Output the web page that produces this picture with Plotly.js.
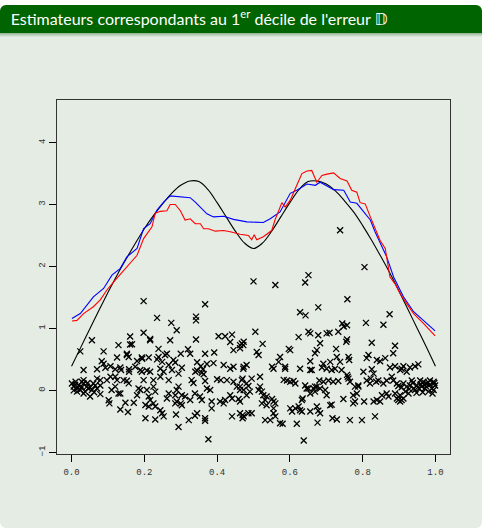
<!DOCTYPE html>
<html>
<head>
<meta charset="utf-8">
<script src="https://cdn.plot.ly/plotly-3.0.1.min.js"></script>
<style>
html,body{margin:0;padding:0;background:#ffffff;width:483px;height:528px;overflow:hidden;}
#block{position:absolute;left:0;top:5px;width:482px;height:523px;background:#e4ece4;border-radius:6px;}
#bar{position:absolute;left:0;top:5px;width:482px;height:28px;background:#006400;border-radius:6px 6px 0 0;}
#shadow{position:absolute;left:0;top:33px;width:482px;height:4px;background:linear-gradient(#8fb38f,#e4ece4);}
#chart{position:absolute;left:0;top:0;width:483px;height:528px;}
</style>
</head>
<body>
<div id="block"></div>
<div id="bar"></div>
<div id="shadow"></div>
<div id="chart"></div>
<script>
// True regression function (black)
const trueX = [0.000,0.025,0.050,0.075,0.100,0.125,0.150,0.175,0.200,0.225,0.250,0.275,0.300,0.325,0.350,0.375,0.400,0.425,0.450,0.475,0.500,0.525,0.550,0.575,0.600,0.625,0.650,0.675,0.700,0.725,0.750,0.775,0.800,0.825,0.850,0.875,0.900,0.925,0.950,0.975,1.000];
const trueY = [0.39,0.69,0.99,1.29,1.58,1.86,2.12,2.37,2.61,2.82,3.01,3.18,3.31,3.38,3.37,3.24,3.03,2.80,2.57,2.38,2.29,2.38,2.57,2.80,3.03,3.24,3.37,3.38,3.33,3.22,3.06,2.88,2.66,2.42,2.16,1.89,1.60,1.30,1.00,0.70,0.39];

// Estimator 1 (blue)
const blueX = [0.001,0.024,0.060,0.088,0.111,0.134,0.152,0.180,0.198,0.216,0.235,0.253,0.271,0.326,0.340,0.372,0.390,0.418,0.445,0.482,0.527,0.546,0.573,0.601,0.619,0.647,0.670,0.683,0.702,0.720,0.748,0.766,0.784,0.802,0.821,0.834,0.848,0.866,0.885,0.912,0.940,0.967,0.999];
const blueY = [1.16,1.24,1.51,1.645,1.86,1.97,2.155,2.29,2.61,2.69,2.91,3.04,3.14,3.11,3.04,2.85,2.80,2.81,2.76,2.72,2.71,2.77,2.88,3.18,3.23,3.33,3.31,3.36,3.30,3.24,3.23,3.04,3.02,2.88,2.75,2.56,2.37,2.155,1.83,1.51,1.27,1.13,0.96];

// Estimator 2 (red)
const redX = [0.001,0.015,0.033,0.060,0.079,0.097,0.120,0.143,0.161,0.180,0.198,0.221,0.230,0.244,0.262,0.271,0.285,0.299,0.312,0.326,0.340,0.354,0.363,0.376,0.395,0.418,0.436,0.463,0.486,0.495,0.502,0.509,0.527,0.550,0.559,0.578,0.587,0.601,0.619,0.633,0.647,0.660,0.674,0.688,0.702,0.720,0.738,0.757,0.770,0.784,0.793,0.807,0.821,0.834,0.848,0.862,0.875,0.889,0.903,0.921,0.940,0.967,0.999];
const redY = [1.12,1.13,1.24,1.35,1.46,1.62,1.78,1.94,2.05,2.18,2.45,2.64,2.86,2.89,2.90,3.00,3.00,2.90,2.75,2.77,2.69,2.69,2.61,2.61,2.57,2.58,2.56,2.52,2.50,2.43,2.51,2.43,2.48,2.58,2.75,3.03,2.96,3.07,3.31,3.50,3.54,3.55,3.36,3.47,3.49,3.51,3.42,3.38,3.23,3.20,3.03,3.01,2.80,2.61,2.42,2.29,1.83,1.72,1.56,1.40,1.24,1.08,0.88];

// Observations
const obsX = [0.198,0.367,0.235,0.342,0.342,0.274,0.289,0.198,0.161,0.216,0.216,0.056,0.161,0.271,0.342,0.404,0.422,0.441,0.436,0.468,0.472,0.129,0.239,0.024,0.088,0.152,0.157,0.320,0.326,0.300,0.262,0.367,0.392,0.445,0.463,0.125,0.180,0.193,0.212,0.235,0.249,0.083,0.088,0.280,0.285,0.303,0.267,0.345,0.355,0.361,0.372,0.390,0.033,0.070,0.093,0.107,0.120,0.134,0.136,0.158,0.158,0.175,0.189,0.193,0.207,0.216,0.244,0.253,0.276,0.294,0.340,0.345,0.358,0.363,0.418,0.436,0.445,0.472,0.481,0.244,0.198,0.070,0.079,0.097,0.107,0.120,0.125,0.143,0.152,0.157,0.033,0.028,0.225,0.267,0.330,0.335,0.367,0.400,0.410,0.427,0.445,0.468,0.481,
0.001,0.006,0.011,0.015,0.019,0.024,0.028,0.033,0.037,0.042,0.046,0.051,0.056,0.060,0.065,0.070,0.079,0.079,0.051,0.033,0.015,0.006,0.010,0.044,0.062,
0.110,0.120,0.129,0.134,0.102,0.104,0.148,0.171,0.134,0.155,0.180,0.184,0.189,0.207,0.212,0.216,0.225,0.230,0.203,0.212,0.225,0.230,0.244,0.249,0.253,0.203,0.230,0.262,0.267,0.285,0.289,0.294,0.285,0.289,0.287,0.303,0.312,0.300,0.303,0.326,0.339,0.353,0.358,0.322,0.294,0.345,0.339,0.367,0.367,0.376,0.385,0.385,0.372,0.381,0.408,0.418,0.422,0.436,0.441,0.441,0.459,0.463,0.470,0.470,0.486,0.454,0.463,
0.152,0.194,0.239,0.257,0.166,
0.500,0.560,0.642,0.651,0.738,0.805,0.758,0.628,0.643,0.678,0.874,0.809,0.857,0.744,0.757,0.748,0.505,0.651,0.656,0.678,0.624,0.701,0.709,0.733,0.473,0.463,0.525,0.683,0.757,0.755,0.825,0.889,0.884,0.597,0.601,0.674,0.669,0.727,0.509,0.514,0.573,0.569,0.656,0.692,0.711,0.729,0.738,0.761,0.763,0.816,0.811,0.839,0.848,0.862,0.555,0.551,0.473,0.587,0.587,0.628,0.656,0.660,0.688,0.701,0.715,0.724,0.742,0.757,0.759,0.802,0.825,0.830,0.822,0.875,0.889,0.903,0.907,0.912,0.921,0.930,0.944,0.953,0.470,0.495,0.518,0.583,0.592,0.601,0.610,0.615,0.642,0.646,0.665,0.669,0.681,0.692,0.706,0.719,0.733,0.761,0.765,0.779,0.788,0.811,0.820,0.837,0.843,0.857,0.866,0.880,0.884,
0.894,0.898,0.907,0.912,0.921,0.930,0.940,0.949,0.958,0.967,0.976,0.985,0.995,0.999,0.990,0.971,0.981,0.995,0.962,0.935,0.944,0.926,0.917,0.903,0.907,0.912,0.955,0.965,0.975,0.985,0.992,0.948,0.938,0.928,0.960,0.980,0.997,0.970,
0.463,0.473,0.486,0.490,0.481,0.518,0.514,0.523,0.527,0.536,0.532,0.523,0.536,0.551,0.555,0.560,0.555,0.463,0.473,0.495,0.532,0.546,0.560,0.555,0.573,0.580,0.601,0.606,0.615,0.624,0.628,0.633,0.619,0.656,0.674,0.678,0.683,0.676,0.633,0.635,0.651,0.656,0.669,0.674,0.683,0.697,0.701,0.711,0.715,0.717,0.729,0.747,0.765,0.774,0.779,0.774,0.784,0.788,0.798,0.804,0.830,0.834,0.839,0.848,0.853,0.866,0.871,0.889,0.898,0.894,0.903,0.638];
const obsY = [1.44,1.39,1.17,1.19,1.13,1.09,0.97,0.93,0.87,0.83,0.81,0.81,0.74,0.81,0.82,0.875,0.875,0.90,0.78,0.757,0.73,0.73,0.67,0.63,0.63,0.59,0.54,0.665,0.59,0.59,0.59,0.59,0.61,0.65,0.68,0.53,0.475,0.53,0.53,0.50,0.46,0.47,0.43,0.49,0.45,0.365,0.41,0.455,0.39,0.34,0.425,0.44,0.33,0.34,0.365,0.39,0.34,0.37,0.33,0.34,0.30,0.38,0.33,0.30,0.32,0.30,0.35,0.30,0.33,0.27,0.30,0.32,0.285,0.26,0.41,0.35,0.38,0.35,0.41,0.22,0.166,0.19,0.166,0.166,0.22,0.22,0.166,0.166,0.155,0.113,0.166,0.14,0.166,0.166,0.166,0.12,0.15,0.18,0.166,0.166,0.14,0.166,0.113,
0.11,0.06,0.14,0.03,0.08,0.005,0.05,0.11,-0.02,0.06,0.03,0.05,0.005,0.11,0.08,0.03,0.08,-0.06,-0.10,-0.05,-0.02,0.00,0.09,0.12,-0.03,
0.005,0.06,-0.05,-0.05,-0.16,-0.21,-0.20,-0.20,-0.31,-0.35,-0.08,0.03,0.005,0.005,-0.10,-0.155,0.06,-0.02,-0.237,-0.26,-0.21,-0.26,-0.32,-0.37,-0.42,-0.45,-0.47,-0.13,-0.05,-0.08,0.005,0.06,-0.21,-0.18,-0.39,-0.08,-0.10,-0.21,-0.24,-0.155,-0.05,-0.10,-0.155,-0.48,-0.59,-0.37,-0.41,-0.45,-0.49,-0.79,-0.29,-0.18,0.03,0.005,-0.18,-0.21,-0.155,-0.08,-0.13,-0.42,-0.14,-0.18,-0.40,-0.45,-0.37,0.06,0.005,
0.57,0.51,0.54,0.57,0.745,
1.76,1.70,1.74,1.86,2.585,1.99,1.47,1.26,1.21,1.34,1.23,1.09,1.06,1.08,1.05,1.03,0.946,0.946,0.92,0.89,0.86,0.92,0.93,0.946,0.785,0.73,0.75,0.76,0.82,0.785,0.77,0.72,0.60,0.67,0.65,0.65,0.60,0.67,0.62,0.57,0.54,0.46,0.47,0.43,0.46,0.54,0.46,0.54,0.49,0.57,0.52,0.49,0.47,0.52,0.35,0.38,0.38,0.38,0.35,0.35,0.33,0.33,0.37,0.35,0.33,0.35,0.33,0.25,0.22,0.30,0.34,0.27,0.19,0.37,0.39,0.33,0.35,0.39,0.30,0.37,0.39,0.42,0.19,0.19,0.22,0.17,0.16,0.14,0.15,0.11,0.08,0.03,0.03,0.06,0.16,0.14,0.16,0.14,0.15,0.19,0.14,0.06,0.08,0.16,0.11,0.14,0.16,0.11,0.16,0.22,0.16,
0.11,0.07,0.05,0.11,0.06,0.08,0.03,0.08,0.16,0.14,0.11,0.16,0.14,0.08,0.03,0.03,-0.02,0.005,0.06,0.16,0.005,-0.05,-0.02,-0.08,-0.155,-0.13,0.03,-0.03,0.06,0.09,-0.05,-0.04,0.12,0.02,0.10,0.13,0.12,0.09,
0.06,0.005,0.07,-0.02,-0.08,0.06,0.005,-0.02,-0.08,-0.10,-0.155,-0.21,-0.24,-0.14,-0.18,-0.21,-0.29,-0.37,-0.42,-0.37,-0.48,-0.48,-0.42,-0.37,-0.53,-0.54,-0.29,-0.34,-0.29,-0.26,-0.32,-0.34,-0.54,-0.34,-0.26,-0.33,-0.37,-0.52,-0.155,-0.13,0.03,-0.05,-0.02,0.06,0.03,0.005,-0.08,-0.24,-0.23,-0.45,-0.47,-0.14,-0.48,-0.21,-0.18,-0.08,-0.05,0.06,-0.48,-0.18,-0.18,-0.42,-0.155,-0.18,-0.08,-0.05,-0.10,-0.05,-0.155,-0.13,-0.18,-0.81];

const xTicks = [0.0,0.2,0.4,0.6,0.8,1.0];
const xTickText = ["0.0","0.2","0.4","0.6","0.8","1.0"];
const yTicks = [-1,0,1,2,3,4];
const yTickText = ["\u22121","0","1","2","3","4"];

const traces = [
  {x: obsX, y: obsY, type: 'scatter', mode: 'markers',
   marker: {symbol: 'x-thin', size: 6, color: '#000', line: {color: '#000', width: 1.3}}, hoverinfo: 'skip'},
  {x: trueX, y: trueY, type: 'scatter', mode: 'lines', line: {color: '#000', width: 1.1, shape: 'spline'}},
  {x: blueX, y: blueY, type: 'scatter', mode: 'lines', line: {color: '#0000ff', width: 1.1}},
  {x: redX, y: redY, type: 'scatter', mode: 'lines', line: {color: '#ff0000', width: 1.1}}
];

const tickFont = {family: 'Liberation Mono, DejaVu Sans Mono, monospace', size: 9, color: '#333'};
const layout = {
  width: 483, height: 528,
  paper_bgcolor: 'rgba(0,0,0,0)', plot_bgcolor: 'rgba(0,0,0,0)',
  margin: {l: 57, r: 33, t: 100, b: 74},
  showlegend: false,
  title: {text: "Estimateurs correspondants au 1<sup>er</sup> décile de l'erreur 𝔻",
          x: 0.022, xanchor: 'left', xref: 'container', y: 0.963, yanchor: 'middle', yref: 'container',
          font: {family: 'Lato, DejaVu Sans, sans-serif', size: 16, color: '#ffffff'}},
  xaxis: {range: [-0.04, 1.04], tickvals: xTicks, ticktext: xTickText, ticks: 'outside', ticklen: 7,
          tickcolor: '#000', tickwidth: 1, showgrid: false, zeroline: false, showline: true, mirror: true,
          linecolor: '#333', linewidth: 1, tickfont: tickFont, ticklabelstandoff: 2},
  yaxis: {range: [-1.027, 4.687], tickvals: yTicks, ticktext: yTickText, ticks: 'outside', ticklen: 7,
          tickcolor: '#000', tickwidth: 1, showgrid: false, zeroline: false, showline: true, mirror: true,
          linecolor: '#333', linewidth: 1, tickfont: tickFont, tickangle: -90}
};
Plotly.newPlot('chart', traces, layout, {staticPlot: true, displayModeBar: false});
</script>
</body>
</html>
